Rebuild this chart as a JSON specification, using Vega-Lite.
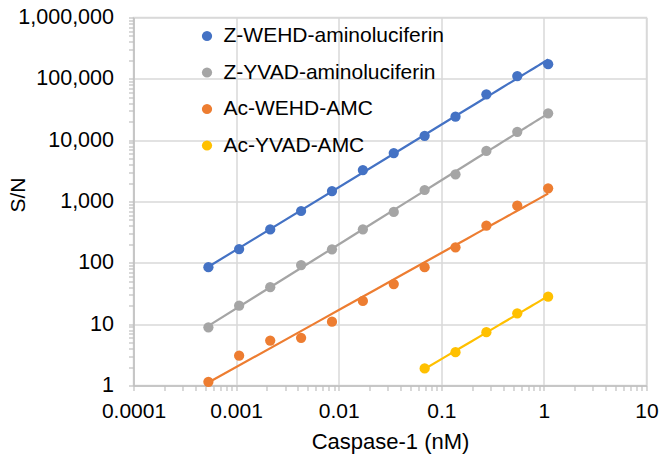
{
  "$schema": "https://vega.github.io/schema/vega-lite/v6.json",
  "width": 513,
  "height": 368,
  "autosize": {"type": "none"},
  "padding": {"left": 133.5, "top": 17.5, "right": 13.5, "bottom": 74.5},
  "background": "white",
  "config": {
    "view": {"stroke": "#d9d9d9", "strokeWidth": 1.5},
    "font": "Liberation Sans",
    "axis": {
      "labelFont": "Liberation Sans",
      "titleFont": "Liberation Sans",
      "labelColor": "#000000",
      "titleColor": "#000000",
      "titleFontWeight": "normal",
      "domainColor": "#bfbfbf",
      "domainWidth": 1.5,
      "tickColor": "#bfbfbf",
      "tickWidth": 1.2,
      "tickSize": 5,
      "gridColor": "#d9d9d9",
      "gridWidth": 1.5,
      "labelOverlap": false,
      "labelFlush": false,
      "labelBound": false
    },
    "legend": {"labelFont": "Liberation Sans"}
  },
  "datasets": {
    "pts": [
      {"series": "Z-WEHD-aminoluciferin", "conc": 0.000537, "sn": 85},
      {"series": "Z-WEHD-aminoluciferin", "conc": 0.00107, "sn": 168},
      {"series": "Z-WEHD-aminoluciferin", "conc": 0.00215, "sn": 350},
      {"series": "Z-WEHD-aminoluciferin", "conc": 0.0043, "sn": 700},
      {"series": "Z-WEHD-aminoluciferin", "conc": 0.0086, "sn": 1480},
      {"series": "Z-WEHD-aminoluciferin", "conc": 0.0172, "sn": 3260},
      {"series": "Z-WEHD-aminoluciferin", "conc": 0.0344, "sn": 6170},
      {"series": "Z-WEHD-aminoluciferin", "conc": 0.0688, "sn": 11800},
      {"series": "Z-WEHD-aminoluciferin", "conc": 0.1375, "sn": 24100},
      {"series": "Z-WEHD-aminoluciferin", "conc": 0.275, "sn": 56000},
      {"series": "Z-WEHD-aminoluciferin", "conc": 0.55, "sn": 111000},
      {"series": "Z-WEHD-aminoluciferin", "conc": 1.1, "sn": 173000},
      {"series": "Z-YVAD-aminoluciferin", "conc": 0.000537, "sn": 8.9},
      {"series": "Z-YVAD-aminoluciferin", "conc": 0.00107, "sn": 20},
      {"series": "Z-YVAD-aminoluciferin", "conc": 0.00215, "sn": 40},
      {"series": "Z-YVAD-aminoluciferin", "conc": 0.0043, "sn": 92},
      {"series": "Z-YVAD-aminoluciferin", "conc": 0.0086, "sn": 166},
      {"series": "Z-YVAD-aminoluciferin", "conc": 0.0172, "sn": 352},
      {"series": "Z-YVAD-aminoluciferin", "conc": 0.0344, "sn": 675},
      {"series": "Z-YVAD-aminoluciferin", "conc": 0.0688, "sn": 1540},
      {"series": "Z-YVAD-aminoluciferin", "conc": 0.1375, "sn": 2780},
      {"series": "Z-YVAD-aminoluciferin", "conc": 0.275, "sn": 6670},
      {"series": "Z-YVAD-aminoluciferin", "conc": 0.55, "sn": 13700},
      {"series": "Z-YVAD-aminoluciferin", "conc": 1.1, "sn": 27400},
      {"series": "Ac-WEHD-AMC", "conc": 0.000537, "sn": 1.15},
      {"series": "Ac-WEHD-AMC", "conc": 0.00107, "sn": 3.06},
      {"series": "Ac-WEHD-AMC", "conc": 0.00215, "sn": 5.4},
      {"series": "Ac-WEHD-AMC", "conc": 0.0043, "sn": 6.0},
      {"series": "Ac-WEHD-AMC", "conc": 0.0086, "sn": 11},
      {"series": "Ac-WEHD-AMC", "conc": 0.0172, "sn": 23.9},
      {"series": "Ac-WEHD-AMC", "conc": 0.0344, "sn": 45},
      {"series": "Ac-WEHD-AMC", "conc": 0.0688, "sn": 85},
      {"series": "Ac-WEHD-AMC", "conc": 0.1375, "sn": 179},
      {"series": "Ac-WEHD-AMC", "conc": 0.275, "sn": 403},
      {"series": "Ac-WEHD-AMC", "conc": 0.55, "sn": 855},
      {"series": "Ac-WEHD-AMC", "conc": 1.1, "sn": 1640},
      {"series": "Ac-YVAD-AMC", "conc": 0.0688, "sn": 1.9},
      {"series": "Ac-YVAD-AMC", "conc": 0.1375, "sn": 3.5},
      {"series": "Ac-YVAD-AMC", "conc": 0.275, "sn": 7.4},
      {"series": "Ac-YVAD-AMC", "conc": 0.55, "sn": 15},
      {"series": "Ac-YVAD-AMC", "conc": 1.1, "sn": 28}
    ]
  },
  "data": {"name": "pts"},
  "encoding": {
    "color": {
      "field": "series",
      "type": "nominal",
      "scale": {
        "domain": ["Z-WEHD-aminoluciferin", "Z-YVAD-aminoluciferin", "Ac-WEHD-AMC", "Ac-YVAD-AMC"],
        "range": ["#4472C4", "#A5A5A5", "#ED7D31", "#FFC000"]
      },
      "legend": {
        "title": null,
        "orient": "none",
        "legendX": 63,
        "legendY": 8,
        "padding": 0,
        "symbolType": "circle",
        "symbolSize": 105,
        "symbolOpacity": 1,
        "symbolStrokeWidth": 0,
        "labelFontSize": 21,
        "labelColor": "#000000",
        "labelOffset": 6,
        "rowPadding": 14.5,
        "labelLimit": 400
      }
    }
  },
  "layer": [
    {
      "transform": [
        {"regression": "sn", "on": "conc", "method": "pow", "groupby": ["series"]}
      ],
      "mark": {"type": "line", "strokeWidth": 2.2, "clip": true},
      "encoding": {
        "x": {"field": "conc", "type": "quantitative"},
        "y": {"field": "sn", "type": "quantitative"}
      }
    },
    {
      "mark": {"type": "point", "filled": true, "opacity": 1, "size": 105},
      "encoding": {
        "x": {
          "field": "conc",
          "type": "quantitative",
          "scale": {"type": "log", "domain": [0.0001, 10], "nice": false},
          "axis": {
            "title": "Caspase-1 (nM)",
            "titleFontSize": 22,
            "titleX": 256.5,
            "titleY": 56,
            "titleBaseline": "middle",
            "titleAlign": "center",
            "labelFontSize": 21,
            "labelPadding": 10,
            "values": [0.0001, 0.0002, 0.0003, 0.0004, 0.0005, 0.0006, 0.0007, 0.0008, 0.0009,
                       0.001, 0.002, 0.003, 0.004, 0.005, 0.006, 0.007, 0.008, 0.009,
                       0.01, 0.02, 0.03, 0.04, 0.05, 0.06, 0.07, 0.08, 0.09,
                       0.1, 0.2, 0.3, 0.4, 0.5, 0.6, 0.7, 0.8, 0.9,
                       1, 2, 3, 4, 5, 6, 7, 8, 9, 10],
            "labelExpr": "abs(log(datum.value)/LN10 - round(log(datum.value)/LN10)) < 1e-6 ? format(datum.value, ',') : ''",
            "gridOpacity": {"condition": {"test": "abs(log(datum.value)/LN10 - round(log(datum.value)/LN10)) < 1e-6", "value": 1}, "value": 0}
          }
        },
        "y": {
          "field": "sn",
          "type": "quantitative",
          "scale": {"type": "log", "domain": [1, 1000000], "nice": false},
          "axis": {
            "title": "S/N",
            "titleFontSize": 21,
            "titleX": -115,
            "titleY": 177,
            "titleBaseline": "middle",
            "titleAlign": "center",
            "titleAngle": -90,
            "labelFontSize": 21.5,
            "labelPadding": 15,
            "values": [1, 2, 3, 4, 5, 6, 7, 8, 9,
                       10, 20, 30, 40, 50, 60, 70, 80, 90,
                       100, 200, 300, 400, 500, 600, 700, 800, 900,
                       1000, 2000, 3000, 4000, 5000, 6000, 7000, 8000, 9000,
                       10000, 20000, 30000, 40000, 50000, 60000, 70000, 80000, 90000,
                       100000, 200000, 300000, 400000, 500000, 600000, 700000, 800000, 900000,
                       1000000],
            "labelExpr": "abs(log(datum.value)/LN10 - round(log(datum.value)/LN10)) < 1e-6 ? format(datum.value, ',') : ''",
            "gridOpacity": {"condition": {"test": "abs(log(datum.value)/LN10 - round(log(datum.value)/LN10)) < 1e-6", "value": 1}, "value": 0}
          }
        }
      }
    }
  ]
}
